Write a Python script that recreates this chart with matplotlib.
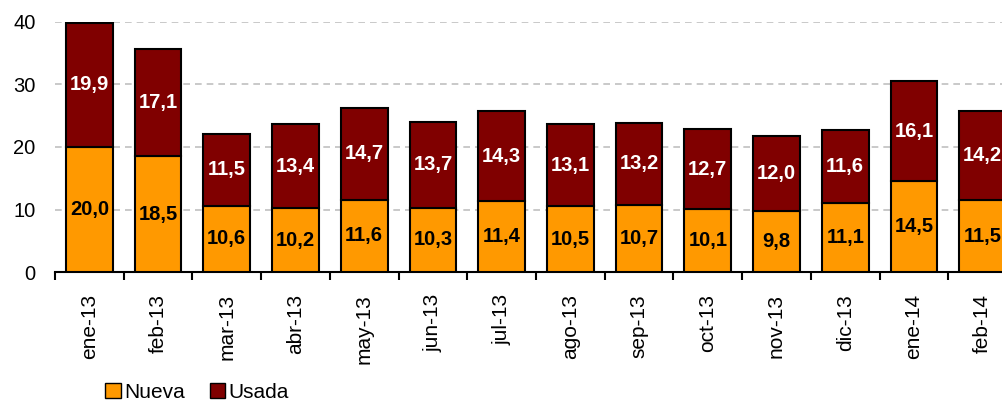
import numpy as np
import matplotlib.pyplot as plt
from matplotlib.patches import Patch

plt.rcParams['font.family'] = ['Liberation Sans', 'DejaVu Sans']

months = ['ene-13', 'feb-13', 'mar-13', 'abr-13', 'may-13', 'jun-13', 'jul-13',
          'ago-13', 'sep-13', 'oct-13', 'nov-13', 'dic-13', 'ene-14', 'feb-14']
nueva = [20.0, 18.5, 10.6, 10.2, 11.6, 10.3, 11.4, 10.5, 10.7, 10.1, 9.8, 11.1, 14.5, 11.5]
usada = [19.9, 17.1, 11.5, 13.4, 14.7, 13.7, 14.3, 13.1, 13.2, 12.7, 12.0, 11.6, 16.1, 14.2]

c_nueva = '#FF9900'
c_usada = '#800000'

fig = plt.figure(figsize=(10.03, 4.01), dpi=100)
# axes deliberately runs past the right edge (the original is cropped)
ax = fig.add_axes([55 / 1003, 129 / 401, 962 / 1003, 250 / 401])

x = np.arange(len(months))
ax.bar(x, nueva, width=0.68, color=c_nueva, edgecolor='black', linewidth=1.5, zorder=3)
ax.bar(x, usada, width=0.68, bottom=nueva, color=c_usada, edgecolor='black', linewidth=1.5, zorder=3)

fmt = lambda v: f'{v:.1f}'.replace('.', ',')
for i in range(len(months)):
    ax.text(x[i], nueva[i] / 2, fmt(nueva[i]), ha='center', va='center',
            fontsize=14.5, fontweight='bold', color='black', zorder=4)
    ax.text(x[i], nueva[i] + usada[i] / 2, fmt(usada[i]), ha='center', va='center',
            fontsize=14.5, fontweight='bold', color='white', zorder=4)

ax.set_xlim(-0.5, len(months) - 0.5)
ax.set_ylim(0, 40)
ax.set_yticks([0, 10, 20, 30, 40])
ax.yaxis.grid(True, linestyle=(0, (4, 3)), color='#c0c0c0', linewidth=1.2, zorder=0)

ax.set_xticks(x)
ax.set_xticklabels(months, rotation=90, fontsize=15)
ax.set_xticks(np.arange(-0.5, len(months), 1), minor=True)
ax.tick_params(axis='x', which='major', length=0, pad=16)
ax.tick_params(axis='x', which='minor', length=6, width=1.5, direction='out')
ax.tick_params(axis='y', length=0, pad=14, labelsize=14.5)

for s in ['top', 'right', 'left']:
    ax.spines[s].set_visible(False)
ax.spines['bottom'].set_linewidth(1.5)

handles = [Patch(facecolor=c_nueva, edgecolor='black', label='Nueva'),
           Patch(facecolor=c_usada, edgecolor='black', label='Usada')]
fig.legend(handles=handles, loc='center left', bbox_to_anchor=(105 / 1003, 1 - 392 / 401), ncol=2,
           frameon=False, fontsize=15, handlelength=0.75, handleheight=0.75,
           handletextpad=0.15, columnspacing=1.2, borderaxespad=0, borderpad=0)

fig.savefig('out.png', dpi=100)
